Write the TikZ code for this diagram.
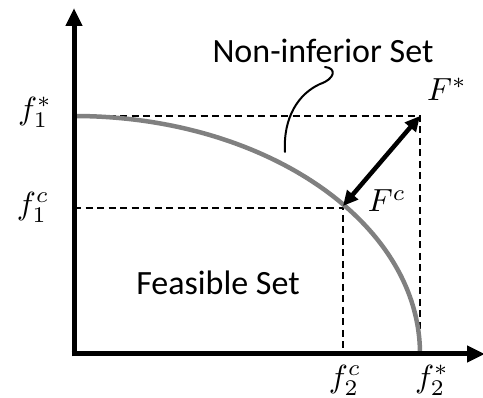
\documentclass[tikz,border=0pt]{standalone}
\usepackage{fontspec}
\setmainfont{Carlito}
\usetikzlibrary{arrows.meta}
\definecolor{frontgray}{RGB}{128,128,128}
\newcommand\mbig[1]{\scalebox{3.2}{$#1$}}
\begin{document}
\begin{tikzpicture}[x=1pt,y=-1pt,
  axis/.style={line width=5pt,-{Triangle[length=18pt,width=16pt]}},
  guide/.style={line width=2pt,dash pattern=on 7pt off 4.5pt},
  front/.style={line width=4.5pt,color=frontgray},
  dbl/.style={line width=4.5pt,{Triangle[length=15pt,width=14pt]}-{Triangle[length=15pt,width=14pt]}},
  leader/.style={line width=2pt,line cap=round},
  lbl/.style={font=\fontsize{34}{40}\selectfont,inner sep=0pt},
  mlbl/.style={inner sep=0pt}]
\useasboundingbox (0,0) rectangle (483,398);
% key points
\coordinate (O) at (74,354);
\coordinate (ybot) at (74,356.5);
\coordinate (xleft) at (71.5,354);
\coordinate (ytip) at (74,8);
\coordinate (xtip) at (485,354);
\coordinate (f1s) at (74,116);
\coordinate (f1c) at (74,208);
\coordinate (f2s) at (420,354);
\coordinate (f2c) at (343,354);
\coordinate (Fs) at (420,116);
\coordinate (Fc) at (343,208);
\coordinate (Fcarrow) at (343,206);
\coordinate (lead1) at (325,67);
\coordinate (lead2) at (285,152);
% guides
\draw[guide] (f1s) -- (Fs) -- (f2s);
\draw[guide] (f1c) -- (Fc) -- (f2c);
% front
\draw[front] (f1s) arc[start angle=90, end angle=0, x radius=346pt, y radius=238pt];
% axes
\draw[axis] (ybot) -- (ytip);
\draw[axis] (xleft) -- (xtip);
% double arrow
\draw[dbl] (Fcarrow) -- (Fs);
% leader
\draw[leader] (lead1) .. controls (337,68) and (335,79) .. (320,84)
  .. controls (298,94) and (283,118) .. (lead2);
% labels
\node[lbl] (nis) at (323,51) {Non-inferior Set};
\node[lbl] (fs) at (218,283) {Feasible Set};
\node[mlbl] (Fstarl) at (447,89) {\mbig{F^*}};
\node[mlbl] (Fcl) at (387,201) {\mbig{F^c}};
\node[mlbl] (f1sl) at (35,112) {\mbig{f_1^*}};
\node[mlbl] (f1cl) at (33,207) {\mbig{f_1^c}};
\node[mlbl] (f2cl) at (345,380) {\mbig{f_2^c}};
\node[mlbl] (f2sl) at (432,380) {\mbig{f_2^*}};
\end{tikzpicture}
\end{document}
